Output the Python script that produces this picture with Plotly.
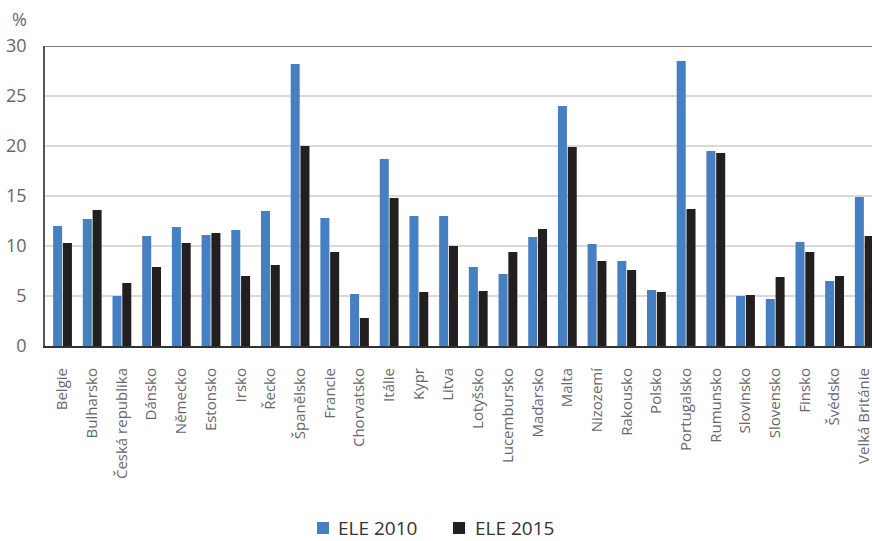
import plotly.graph_objects as go

countries = ["Belgie", "Bulharsko", "Česká republika", "Dánsko", "Německo", "Estonsko",
             "Irsko", "Řecko", "Španělsko", "Francie", "Chorvatsko", "Itálie", "Kypr",
             "Litva", "Lotyšsko", "Lucembursko", "Maďarsko", "Malta", "Nizozemí",
             "Rakousko", "Polsko", "Portugalsko", "Rumunsko", "Slovinsko", "Slovensko",
             "Finsko", "Švédsko", "Velká Británie"]
ele_2010 = [12.0, 12.7, 5.0, 11.0, 11.9, 11.1, 11.6, 13.5, 28.2, 12.8, 5.2, 18.7, 13.0,
            13.0, 7.9, 7.2, 10.9, 24.0, 10.2, 8.5, 5.6, 28.5, 19.5, 5.0, 4.7, 10.4, 6.5, 14.9]
ele_2015 = [10.3, 13.6, 6.3, 7.9, 10.3, 11.3, 7.0, 8.1, 20.0, 9.4, 2.8, 14.8, 5.4,
            10.0, 5.5, 9.4, 11.7, 19.9, 8.5, 7.6, 5.4, 13.7, 19.3, 5.1, 6.9, 9.4, 7.0, 11.0]
y_ticks = [0, 5, 10, 15, 20, 25, 30]
series_names = ["ELE 2010", "ELE 2015"]
series_colors = ["#4680c2", "#231f20"]

FONT = "Open Sans"
GRAY = "#66676a"

fig = go.Figure()
for name, vals, col in zip(series_names, [ele_2010, ele_2015], series_colors):
    fig.add_trace(go.Bar(x=countries, y=vals, name=name, marker_color=col,
                         marker_line_width=0))

# manual legend (squares + labels) placed like the reference
legend_sq_x = [(0.3289, 0.3434), (0.4933, 0.5079)]
legend_txt_x = [0.3519, 0.5175]
shapes = [dict(type="line", xref="paper", yref="y", x0=0, x1=1, y0=30, y1=30,
               line=dict(color="#555555", width=1.5))]
annotations = [dict(text="%", x=-0.0314, y=1.09, xref="paper", yref="paper",
                    xanchor="center", yanchor="middle", showarrow=False,
                    font=dict(size=18, color=GRAY))]
for (x0, x1), tx, name, col in zip(legend_sq_x, legend_txt_x, series_names, series_colors):
    shapes.append(dict(type="rect", xref="paper", yref="paper", x0=x0, x1=x1,
                       y0=-0.6267, y1=-0.5867, fillcolor=col, line=dict(width=0)))
    annotations.append(dict(text=name, x=tx, y=-0.607, xref="paper", yref="paper",
                            xanchor="left", yanchor="middle", showarrow=False,
                            font=dict(size=19, color="#333333")))

fig.update_layout(
    width=872, height=541,
    margin=dict(l=45, r=0, t=46, b=195, autoexpand=False),
    paper_bgcolor="white", plot_bgcolor="white",
    barmode="group", bargap=0.34, bargroupgap=0.08,
    font=dict(family=FONT, color=GRAY),
    showlegend=False,
    xaxis=dict(range=[-0.59, 27.26], tickangle=-90, tickfont=dict(size=15, color=GRAY),
               showline=True, linecolor="#333333", linewidth=2, ticks="",
               showgrid=False, automargin=False, ticklabelstandoff=14),
    yaxis=dict(range=[0, 30], tickvals=y_ticks, tickfont=dict(size=18, color=GRAY),
               showline=True, linecolor="#555555", linewidth=1.5,
               gridcolor="#d9d9d9", gridwidth=1.5, zeroline=False, ticks="",
               ticklabelstandoff=13, automargin=False),
    annotations=annotations,
    shapes=shapes,
)

fig.write_html("out.html")
